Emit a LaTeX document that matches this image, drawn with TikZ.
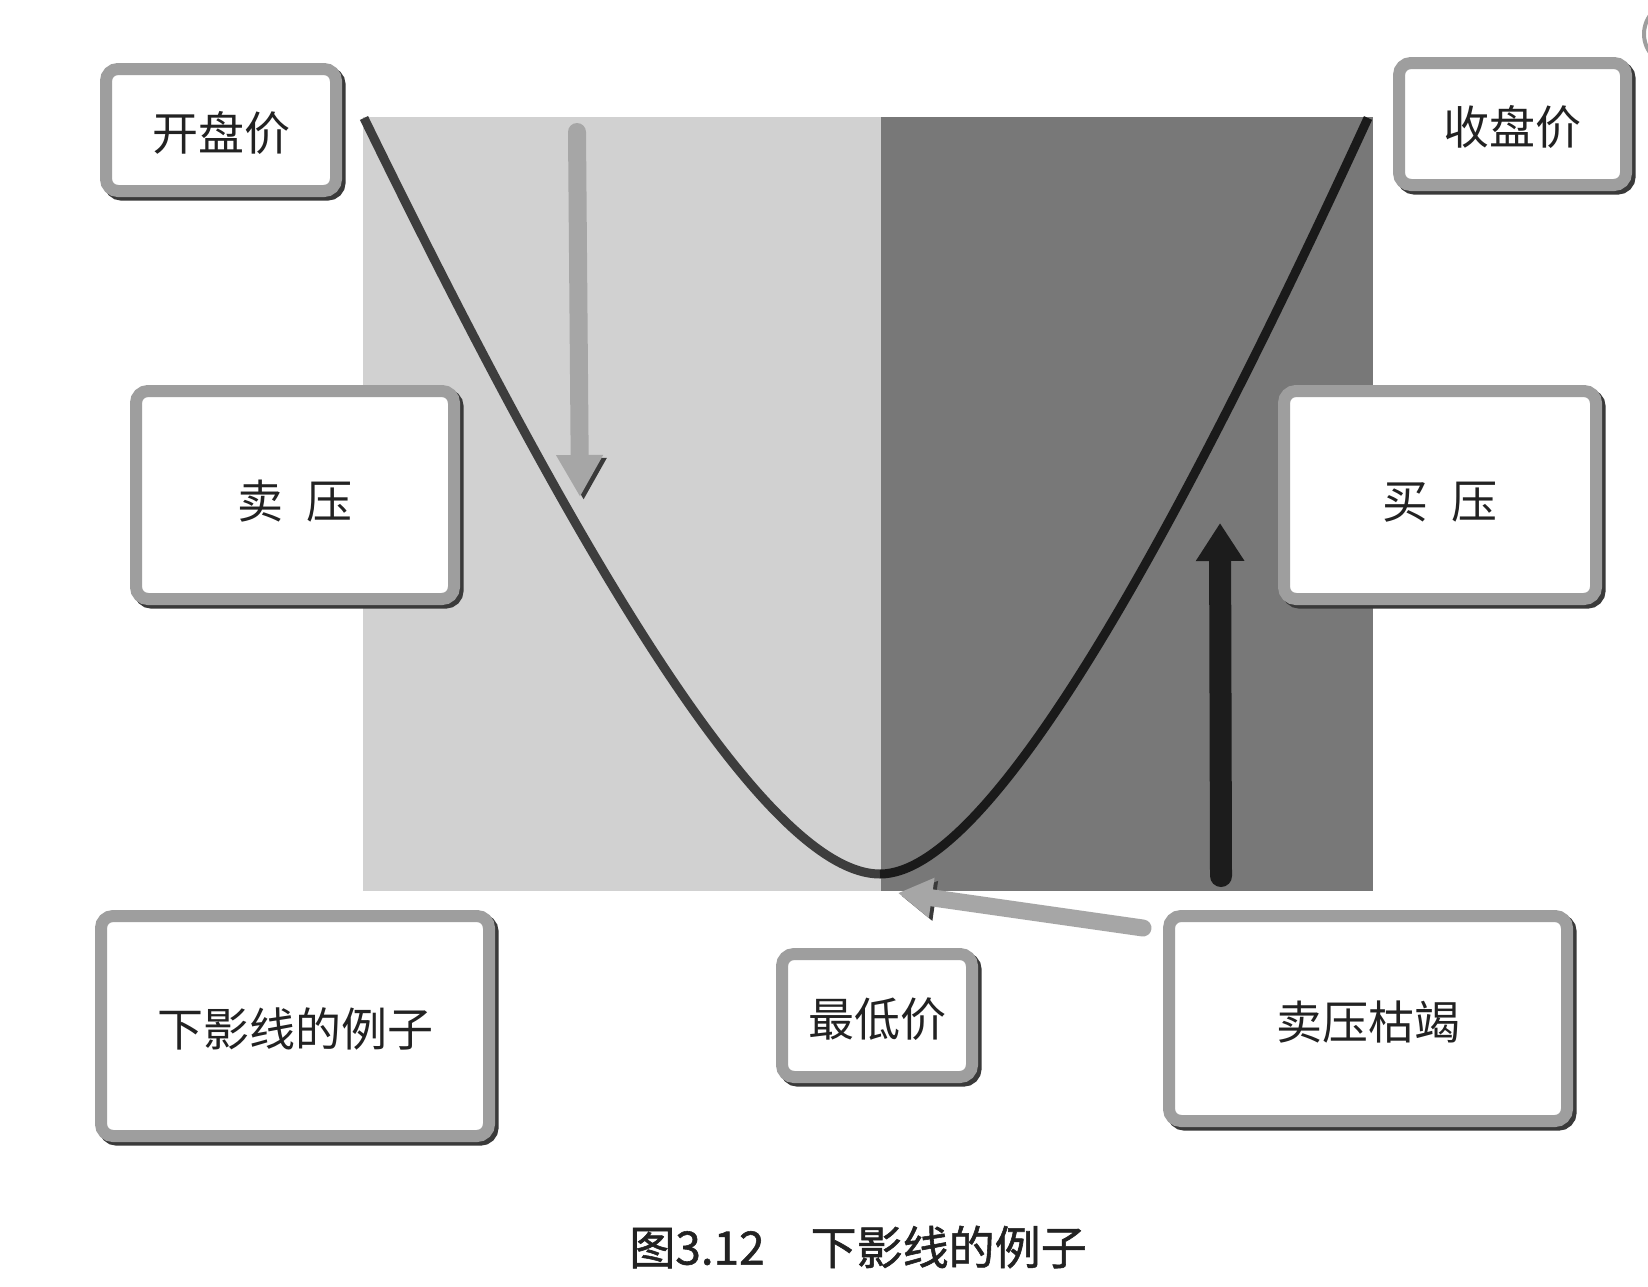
\documentclass[tikz,border=0pt]{standalone}
\usepackage{fontspec}
\setmainfont{Noto Sans CJK SC}
\newfontfamily\capfont[AutoFakeBold=1.2]{Noto Sans CJK SC}
\usetikzlibrary{arrows.meta}
\definecolor{lightbg}{HTML}{D1D1D1}
\definecolor{darkbg}{HTML}{787878}
\definecolor{boxgray}{HTML}{9E9E9E}
\definecolor{arrowgray}{HTML}{A6A6A6}
\definecolor{uparrow}{HTML}{1C1C1C}
\definecolor{curveleft}{HTML}{3D3D3D}
\definecolor{curveright}{HTML}{1A1A1A}
\definecolor{shadowc}{HTML}{3A3A3A}
\definecolor{txt}{HTML}{222222}
\begin{document}
\begin{tikzpicture}[x=0.5pt,y=-0.5pt,
  box/.style={draw=boxgray, line width=6pt, fill=white, rounded corners=6pt,
    inner sep=0pt, text=txt, font=\fontsize{23}{28}\selectfont,
    text height=2.2em, text depth=0.11em,
    preaction={draw=shadowc, line width=6pt, transform canvas={shift={(1.8pt,-1.8pt)}}}},
  lowbox/.style={box, text height=2.45em, text depth=0.11em},
  grayarrow/.style={draw=arrowgray, line cap=round,
    preaction={draw=shadowc, transform canvas={shift={(1.8pt,-1.5pt)}}}},
  curveline/.style={line width=4.5pt},
]
\fill[white] (0,0) rectangle (1648,1286);
\useasboundingbox (0,0) rectangle (1648,1286);

% background panels
\fill[lightbg] (363,117) rectangle (881,891);
\fill[darkbg] (881,117) rectangle (1373,891);

% corner artifact
\draw[boxgray, line width=2pt] (1676,34) circle (32);

% curve
\coordinate (c0) at (364,118);
\coordinate (cm) at (880,874);
\coordinate (c1) at (1368,118);
\draw[curveline, curveleft] (c0) .. controls (560,520) and (760,874) .. (cm);
\draw[curveline, curveright] (cm) .. controls (993,874) and (1183,520) .. (c1);

% arrows
\coordinate (dA) at (577,132);
\coordinate (dB) at (580,497);
\draw[grayarrow, line width=9pt, -{Triangle[length=21pt,width=22pt]}] (dA) -- (dB);

\coordinate (uA) at (1221,876);
\coordinate (uB) at (1220,523);
\draw[uparrow, line width=11pt, line cap=round, -{Triangle[length=19pt,width=23pt]}] (uA) -- (uB);

\coordinate (gA) at (1143,928);
\coordinate (gB) at (898,893);
\draw[grayarrow, line width=8.5pt, -{Triangle[length=17pt,width=19pt]}] (gA) -- (gB);

% boxes
\node[box, minimum width=115pt, minimum height=61pt] (open) at (221,130) {开盘价};
\node[box, minimum width=113.5pt, minimum height=61pt] (close) at (1512.5,124) {收盘价};
\node[lowbox, minimum width=159pt, minimum height=104pt] (sell) at (295,495) {卖\hspace{0.5em}压};
\node[lowbox, minimum width=156pt, minimum height=104pt] (buy) at (1440,495) {买\hspace{0.5em}压};
\node[box, minimum width=194pt, minimum height=110pt] (title) at (295,1026) {下影线的例子};
\node[box, minimum width=95pt, minimum height=61.5pt] (low) at (877,1015.5) {最低价};
\node[box, minimum width=199pt, minimum height=102.5pt] (exhaust) at (1368,1018.5) {卖压枯竭};

% caption
\node[font=\capfont\bfseries\fontsize{23}{28}\selectfont, text=txt, inner sep=0pt] (cap) at (858,1247) {图3.12\hspace{1em}下影线的例子};
\end{tikzpicture}
\end{document}
